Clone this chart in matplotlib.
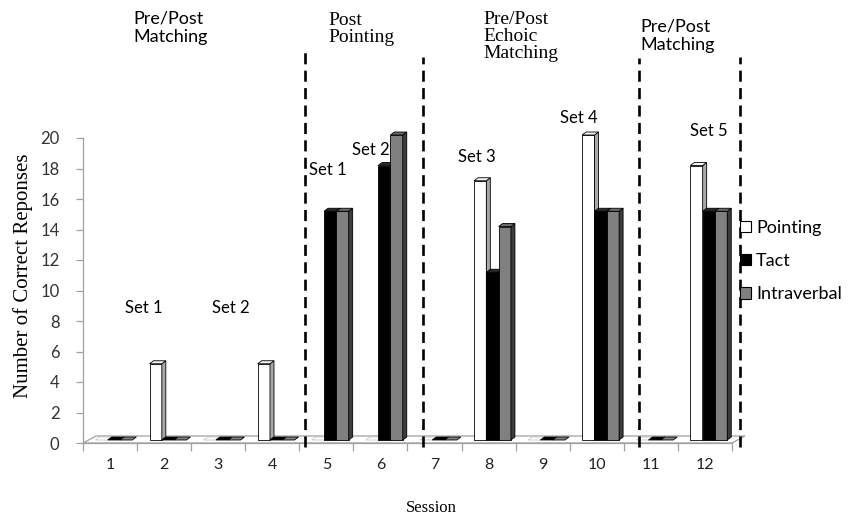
import matplotlib
matplotlib.use("Agg")
import matplotlib.pyplot as plt
from matplotlib.patches import Polygon, Rectangle, Patch

# ---------------- data ----------------
sessions = list(range(1, 13))
pointing = [0, 5, 0, 5, 0, 0, 0, 17, 0, 20, 0, 18]
tact = [0, 0, 0, 0, 15, 18, 0, 11, 0, 15, 0, 15]
intraverbal = [0, 0, 0, 0, 15, 20, 0, 14, 0, 15, 0, 15]
series_names = ["Pointing", "Tact", "Intraverbal"]
y_ticks = list(range(0, 21, 2))
phase_boundaries = [4.60, 6.78, 10.78, 12.64]
phase_texts = ["Pre/Post\nMatching", "Post\nPointing", "Pre/Post\nEchoic\nMatching", "Pre/Post\nMatching"]
set_texts = ["Set 1", "Set 2", "Set 1", "Set 2", "Set 3", "Set 4", "Set 5"]

# ---------------- style ----------------
W, H, DPI = 849, 521, 100
SANS = ["Lato", "DejaVu Sans"]
SERIF = ["Liberation Serif", "DejaVu Serif"]

front_cols = ["#ffffff", "#000000", "#808080"]
side_cols = ["#a8a8a8", "#111111", "#3c3c3c"]
top_cols = ["#f4f4f4", "#2a2a2a", "#6a6a6a"]

fig = plt.figure(figsize=(W / DPI, H / DPI), dpi=DPI)
fig.patch.set_facecolor("white")

ax_left, ax_right, ax_top, ax_bot = 83, 732, 138, 443
ax = fig.add_axes([ax_left / W, (H - ax_bot) / H, (ax_right - ax_left) / W, (ax_bot - ax_top) / H])
ax.set_xlim(0.5, 12.5)
ax.set_ylim(0, 20)

px_x = (ax_right - ax_left) / 12.0   # pixels per session unit
px_y = (ax_bot - ax_top) / 20.0      # pixels per count unit

def ux(p):
    return p / px_x

def uy(p):
    return p / px_y

# floor (pseudo 3D)
fdx, fdy = ux(13), uy(7)
floor = Polygon([(0.5, 0), (12.5, 0), (12.5 + fdx, fdy), (0.5 + fdx, fdy)], closed=True,
                facecolor="white", edgecolor="#a0a0a0", lw=0.9, zorder=1, clip_on=False)
ax.add_patch(floor)

# bars
bw = ux(12.3)
base = uy(3)
bdx, bdy = ux(4), uy(3)
series = [pointing, tact, intraverbal]
for si, vals in enumerate(series):
    for s, v in zip(sessions, vals):
        x0 = s - 0.29 + si * bw + 0.02
        x1 = x0 + bw
        y0 = base
        y1 = base + v
        z = 3 + si
        if v > 0:
            ax.add_patch(Rectangle((x0, y0), bw, v, facecolor=front_cols[si], edgecolor="black",
                                   lw=0.6, zorder=z, clip_on=False))
            ax.add_patch(Polygon([(x1, y0), (x1 + bdx, y0 + bdy), (x1 + bdx, y1 + bdy), (x1, y1)],
                                 closed=True, facecolor=side_cols[si], edgecolor="black", lw=0.6,
                                 zorder=z, clip_on=False))
        ec = "black" if (v > 0 or si > 0) else "#c8c8c8"
        ax.add_patch(Polygon([(x0, y1), (x1, y1), (x1 + bdx, y1 + bdy), (x0 + bdx, y1 + bdy)],
                             closed=True, facecolor=top_cols[si] if v > 0 else front_cols[si],
                             edgecolor=ec, lw=0.6, zorder=z, clip_on=False))

# dashed phase lines
tops = [uy(ax_bot - 47), uy(ax_bot - 57), uy(ax_bot - 58), uy(ax_bot - 57)]
for xb, yt in zip(phase_boundaries, tops):
    ax.plot([xb, xb], [-uy(4), yt], color="black", lw=1.9, linestyle=(0, (4.2, 2.4)),
            zorder=10, clip_on=False)

# axes styling
for sp in ["top", "right"]:
    ax.spines[sp].set_visible(False)
ax.spines["left"].set_color("#a0a0a0")
ax.spines["bottom"].set_color("#a0a0a0")
ax.spines["left"].set_linewidth(0.9)
ax.spines["bottom"].set_linewidth(0.9)
ax.set_facecolor("none")

ax.set_yticks(y_ticks)
ax.set_yticklabels([str(t) for t in y_ticks], fontfamily=SANS, fontsize=12, color="#333333")
ax.tick_params(axis="y", length=5, width=0.9, color="#a0a0a0", pad=12)

ax.set_xticks([i + 0.5 for i in range(0, 13)])
ax.set_xticklabels([])
ax.tick_params(axis="x", which="major", length=5.5, width=0.9, color="#a0a0a0")
ax.set_xticks(sessions, minor=True)
ax.set_xticklabels([str(s) for s in sessions], minor=True, fontfamily=SANS, fontsize=11.5, color="#222222")
ax.tick_params(axis="x", which="minor", length=0, pad=11)

# axis titles
fig.text(431 / W, 1 - 508 / H, "Session", fontfamily=SERIF, fontsize=12, ha="center", va="center")
fig.text(23 / W, 1 - 276 / H, "Number of Correct Reponses", fontfamily=SERIF, fontsize=15,
         rotation=90, ha="center", va="center")

# legend
handles = [Patch(facecolor=front_cols[i], edgecolor="black", lw=0.8) for i in range(3)]
fig.legend(handles, series_names, loc="center left", bbox_to_anchor=(740 / W, 1 - 261 / H),
           frameon=False, prop={"family": SANS, "size": 13}, handlelength=0.6, handleheight=0.6,
           handletextpad=0.3, labelspacing=0.95, borderpad=0, borderaxespad=0)

# phase annotations
def ftext(x, y, s, fam, size, **kw):
    fig.text(x / W, 1 - y / H, s, fontfamily=fam, fontsize=size, va="top", ha="left", **kw)

ftext(133, 10, phase_texts[0], SANS, 13, linespacing=1.25)
ftext(328, 12, phase_texts[1], SERIF, 14, linespacing=1.0)
ftext(483, 11, phase_texts[2], SERIF, 14, linespacing=1.0)
ftext(640, 18, phase_texts[3], SANS, 13, linespacing=1.25)

set_pos = [(125, 300), (212, 300), (309, 162), (352, 142), (458, 149), (560, 110), (690, 123)]
for (x, y), t in zip(set_pos, set_texts):
    ftext(x, y, t, SANS, 12)

fig.savefig("out.png", dpi=DPI, facecolor="white")
